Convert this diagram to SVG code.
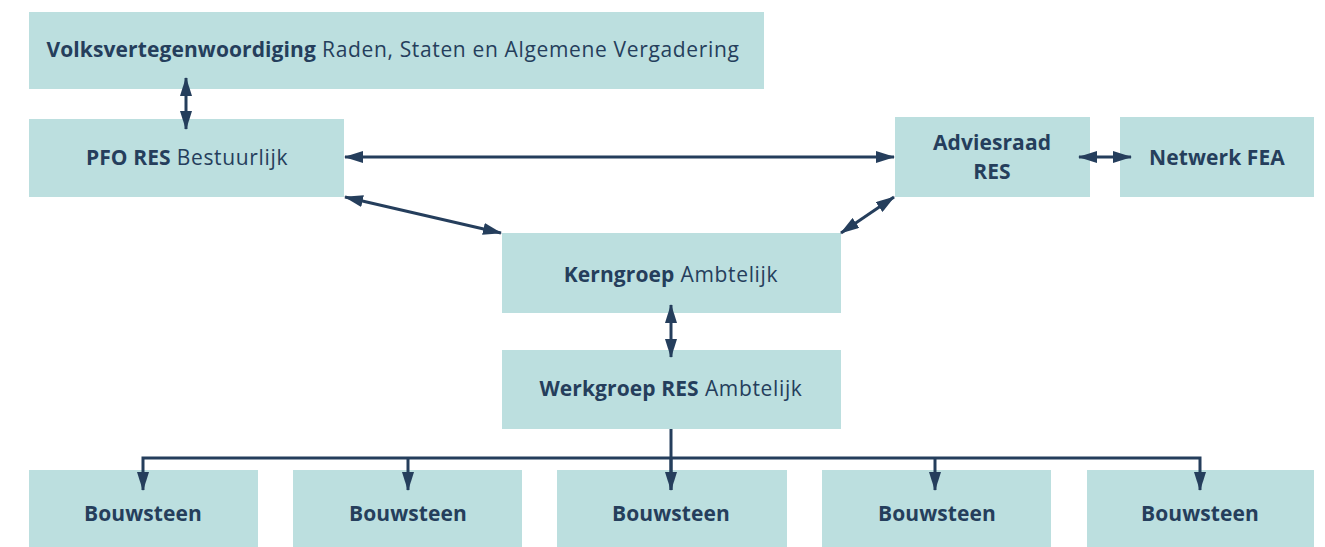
<svg xmlns="http://www.w3.org/2000/svg" width="1325" height="547" viewBox="0 0 1325 547">
<defs>
<style>
.box{fill:#bcdfdf}
.t{font-family:"Open Sans","Liberation Sans",sans-serif;font-size:21px;fill:#253e5c;text-anchor:middle;letter-spacing:0.65px}
.b{font-weight:700;letter-spacing:0.1px}
.c{stroke:#253e5c;stroke-width:3;fill:none}
</style>
<marker id="ah" viewBox="0 0 19 12" refX="18" refY="6" markerWidth="19" markerHeight="12" markerUnits="userSpaceOnUse" orient="auto-start-reverse">
<path d="M0,0 L19,6 L0,12 Z" fill="#253e5c"/>
</marker>
</defs>
<g id="volks"><rect class="box" x="29" y="12" width="735" height="77"/><text class="t" x="393" y="57"><tspan class="b">Volksvertegenwoordiging</tspan> Raden, Staten en Algemene Vergadering</text></g>
<g id="pfo"><rect class="box" x="29" y="119" width="315" height="78"/><text class="t" x="187" y="165"><tspan class="b">PFO RES</tspan> Bestuurlijk</text></g>
<g id="advies"><rect class="box" x="895" y="117" width="195" height="80"/><text class="t b" x="992" y="150">Adviesraad</text><text class="t b" x="992" y="179">RES</text></g>
<g id="netwerk"><rect class="box" x="1120" y="117" width="194" height="80"/><text class="t b" x="1217" y="165">Netwerk FEA</text></g>
<g id="kern"><rect class="box" x="502" y="233" width="339" height="80"/><text class="t" x="671" y="282"><tspan class="b">Kerngroep</tspan> Ambtelijk</text></g>
<g id="werk"><rect class="box" x="502" y="350" width="339" height="79"/><text class="t" x="671" y="396"><tspan class="b">Werkgroep RES</tspan> Ambtelijk</text></g>
<g id="bs1"><rect class="box" x="29" y="470" width="229" height="77"/><text class="t b" x="143" y="521">Bouwsteen</text></g>
<g id="bs2"><rect class="box" x="293" y="470" width="229" height="77"/><text class="t b" x="408" y="521">Bouwsteen</text></g>
<g id="bs3"><rect class="box" x="557" y="470" width="230" height="77"/><text class="t b" x="671" y="521">Bouwsteen</text></g>
<g id="bs4"><rect class="box" x="822" y="470" width="229" height="77"/><text class="t b" x="937" y="521">Bouwsteen</text></g>
<g id="bs5"><rect class="box" x="1087" y="470" width="227" height="77"/><text class="t b" x="1200" y="521">Bouwsteen</text></g>
<g id="connectors">
<line class="c" x1="186" y1="78" x2="186" y2="129" marker-start="url(#ah)" marker-end="url(#ah)"/>
<line class="c" x1="345" y1="157" x2="894" y2="157" marker-start="url(#ah)" marker-end="url(#ah)"/>
<line class="c" x1="345" y1="197" x2="501" y2="233" marker-start="url(#ah)" marker-end="url(#ah)"/>
<line class="c" x1="894" y1="197" x2="841" y2="233" marker-start="url(#ah)" marker-end="url(#ah)"/>
<line class="c" x1="1079" y1="157" x2="1131" y2="157" marker-start="url(#ah)" marker-end="url(#ah)"/>
<line class="c" x1="671" y1="305" x2="671" y2="357" marker-start="url(#ah)" marker-end="url(#ah)"/>
<path class="c" d="M671,429 V490"/>
<path class="c" d="M143,490 V458 H1200 V490" marker-start="url(#ah)" marker-end="url(#ah)"/>
<line class="c" x1="408" y1="458" x2="408" y2="490" marker-end="url(#ah)"/>
<line class="c" x1="671" y1="458" x2="671" y2="490" marker-end="url(#ah)"/>
<line class="c" x1="935" y1="458" x2="935" y2="490" marker-end="url(#ah)"/>
</g>
</svg>
